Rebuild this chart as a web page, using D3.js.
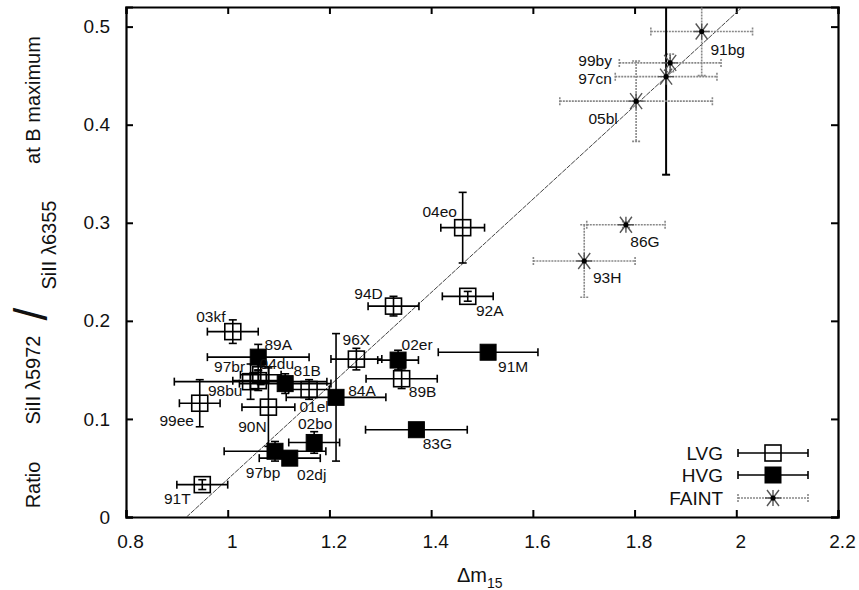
<!DOCTYPE html>
<html><head><meta charset="utf-8">
<script src="https://cdn.jsdelivr.net/npm/d3@7"></script>
<style>body{margin:0;background:#fff} text{font-family:"Liberation Sans",Arial,sans-serif;fill:#111}</style>
</head><body><svg id="c" width="859" height="590"></svg>
<script>
// ---- data ----
const lvgNames = ["91T","99ee","03kf","97br","98bu","04du","01el","90N","96X","89B","94D","04eo","92A"];
const lvgX     = [0.95, 0.945,1.01, 1.045,1.06, 1.065,1.16, 1.08, 1.253,1.342,1.326,1.462,1.472];
const lvgY     = [0.033,0.116,0.189,0.138,0.139,0.145,0.13, 0.112,0.161,0.141,0.215,0.295,0.225];
const lvgXerr  = [0.05, 0.04, 0.05, 0.15, 0.05, 0.04, 0.04, 0.052,0.05, 0.07, 0.05, 0.043,0.05];
const lvgYerr  = [0.005,0.024,0.012,0.018,0.01, 0.01, 0.01, 0.04, 0.011,0.01, 0.01, 0.036,0.005];

const hvgNames = ["89A","81B","84A","02er","91M","83G","02bo","97bp","02dj"];
const hvgX     = [1.06, 1.113,1.213,1.335,1.512,1.371,1.17, 1.093,1.122];
const hvgY     = [0.163,0.136,0.122,0.16, 0.168,0.089,0.076,0.067,0.06];
const hvgXerr  = [0.1,  0.09, 0.098,0.04, 0.098,0.1,  0.05, 0.1,  0.06];
const hvgYerr  = [0.013,0.01, 0.065,0.01, 0.006,0.006,0.011,0.01, 0.006];

const faintNames = ["91bg","99by","97cn","05bl","86G","93H"];
const faintX     = [1.932,1.87, 1.862,1.803,1.783,1.701];
const faintY     = [0.495,0.463,0.449,0.424,0.298,0.261];
const faintXerr  = [0.1,  0.1,  0.1,  0.15, 0.077,0.1];
const faintYerr  = [0.045,0.009,0.1,  0.041,0.003,0.037];

const fitX = [0.919, 2.01];
const fitY = [0, 0.519];

const xTicks = [0.8,1,1.2,1.4,1.6,1.8,2,2.2];
const yTicks = [0,0.1,0.2,0.3,0.4,0.5];
const legendLabels = ["LVG","HVG","FAINT"];

// ---- layout (pixel offsets for point labels) ----
const labelOffset = {
 "91T":[-25,14],"99ee":[-23,17],"03kf":[-22,-15],"97br":[-21,-15],"98bu":[-33,10],"04du":[16,-11],
 "01el":[5,17],"90N":[-16,19],"96X":[0,-20],"89B":[21,13],"94D":[-25,-13],"04eo":[-23,-16],"92A":[22,14],
 "89A":[20,-13],"81B":[22,-13],"84A":[26,-7],"02er":[19,-16],"91M":[25,14],"83G":[21,14],
 "02bo":[1,-19],"97bp":[-12,21],"02dj":[22,16],
 "91bg":[26,18],"99by":[-75,-2],"97cn":[-71,2],"05bl":[-33,17],"86G":[19,17],"93H":[23,17]
};

const svg = d3.select("#c");
const L=126,R=838,T=7,B=517;
const x = d3.scaleLinear().domain([0.8,2.2]).range([L,R]);
const y = d3.scaleLinear().domain([0,0.52]).range([B,T]);

svg.append("defs").append("clipPath").attr("id","clip")
  .append("rect").attr("x",L).attr("y",T).attr("width",R-L).attr("height",B-T);

function mk(names,xs,ys,xe,ye,grp){return names.map((n,i)=>({n,x:xs[i],y:ys[i],xe:xe[i],ye:ye[i],g:grp}));}
const pts = [...mk(lvgNames,lvgX,lvgY,lvgXerr,lvgYerr,"LVG"),
             ...mk(hvgNames,hvgX,hvgY,hvgXerr,hvgYerr,"HVG"),
             ...mk(faintNames,faintX,faintY,faintXerr,faintYerr,"FAINT")];

// axes
const fmt = d=>String(d);
const gx = svg.append("g").attr("transform",`translate(0,${B})`)
  .call(d3.axisBottom(x).tickValues(xTicks).tickSize(-7).tickPadding(18).tickFormat(fmt));
const gy = svg.append("g").attr("transform",`translate(${L},0)`)
  .call(d3.axisLeft(y).tickValues(yTicks).tickSize(-7).tickPadding(16).tickFormat(fmt));
const gt = svg.append("g").attr("transform",`translate(0,${T})`)
  .call(d3.axisTop(x).tickValues(xTicks).tickSize(-7).tickFormat(""));
const gr = svg.append("g").attr("transform",`translate(${R},0)`)
  .call(d3.axisRight(y).tickValues(yTicks).tickSize(-7).tickFormat(""));
[gx,gy,gt,gr].forEach(g=>{
  g.select(".domain").attr("stroke","#000").attr("stroke-width",2.2);
  g.selectAll(".tick line").attr("stroke","#000").attr("stroke-width",2);
  g.selectAll(".tick text").style("font-size","19px").attr("fill","#111");
});
gx.selectAll(".tick text").attr("dx",4);

// fit line
const plot = svg.append("g").attr("clip-path","url(#clip)");
plot.append("line").attr("x1",x(fitX[0])).attr("y1",y(fitY[0])).attr("x2",x(fitX[1])).attr("y2",y(fitY[1]))
  .attr("stroke","#444").attr("stroke-width",1).attr("stroke-dasharray","5,1");

function errStyle(sel,g){
  if(g==="FAINT") sel.attr("stroke","#888").attr("stroke-width",1.6).attr("stroke-dasharray","2,1");
  else sel.attr("stroke","#000").attr("stroke-width",1.6);
}
function drawErr(gg,cx,cy,x0,x1,y0,y1,g,blackY){
  const cap=4;
  const h = gg.append("g"); errStyle(h,g);
  h.append("line").attr("x1",x0).attr("x2",x1).attr("y1",cy).attr("y2",cy);
  h.append("line").attr("x1",x0).attr("x2",x0).attr("y1",cy-cap).attr("y2",cy+cap).attr("stroke-dasharray",null);
  h.append("line").attr("x1",x1).attr("x2",x1).attr("y1",cy-cap).attr("y2",cy+cap).attr("stroke-dasharray",null);
  const v = gg.append("g"); errStyle(v,g);
  if(blackY) v.attr("stroke","#000").attr("stroke-dasharray",null).attr("stroke-width",2);
  if(y0!==null){
    v.append("line").attr("x1",cx).attr("x2",cx).attr("y1",y0).attr("y2",y1);
    v.append("line").attr("x1",cx-cap).attr("x2",cx+cap).attr("y1",y0).attr("y2",y0).attr("stroke-dasharray",null);
    v.append("line").attr("x1",cx-cap).attr("x2",cx+cap).attr("y1",y1).attr("y2",y1).attr("stroke-dasharray",null);
  }
}
function drawMarker(gg,cx,cy,g){
  if(g==="LVG") gg.append("rect").attr("x",cx-8).attr("y",cy-8).attr("width",16).attr("height",16)
    .attr("fill","none").attr("stroke","#000").attr("stroke-width",1.6);
  else if(g==="HVG") gg.append("rect").attr("x",cx-8).attr("y",cy-8).attr("width",16).attr("height",16)
    .attr("fill","#000").attr("stroke","#000").attr("stroke-width",1);
  else {
    const s=8, d=6;
    gg.append("path").attr("d",`M${cx-d},${cy-s}L${cx+d},${cy+s}M${cx+d},${cy-s}L${cx-d},${cy+s}M${cx},${cy-s}L${cx},${cy+s}M${cx-s},${cy}L${cx+s},${cy}`)
      .attr("stroke","#555").attr("stroke-width",1.4).attr("fill","none");
    gg.append("circle").attr("cx",cx).attr("cy",cy).attr("r",2.6).attr("fill","#000");
  }
}

const eg = plot.append("g"), mg = plot.append("g");
pts.forEach(p=>{
  drawErr(eg,x(p.x),y(p.y),x(p.x-p.xe),x(p.x+p.xe),y(p.y+p.ye),y(p.y-p.ye),p.g,p.n==="97cn");
});
pts.forEach(p=>drawMarker(mg,x(p.x),y(p.y),p.g));

// point labels
const lg = svg.append("g");
pts.forEach(p=>{
  const o = labelOffset[p.n]||[0,-18];
  lg.append("text").attr("x",x(p.x)+o[0]).attr("y",y(p.y)+o[1]).attr("dy","0.35em")
    .attr("text-anchor","middle").style("font-size","15.5px").text(p.n);
});

// legend
const legY=[453,475,498];
legendLabels.forEach((lab,i)=>{
  const gg = svg.append("g");
  gg.append("text").attr("x",723).attr("y",legY[i]).attr("dy","0.35em").attr("text-anchor","end")
    .style("font-size","19px").text(lab);
  drawErr(gg,773,legY[i],738,808,null,null,lab,false);
  drawMarker(gg,773,legY[i],lab);
});

// axis titles
const xt = svg.append("text").attr("x",457).attr("y",582).style("font-size","20px");
xt.append("tspan").text("Δm");
xt.append("tspan").attr("dy",6).style("font-size","14px").text("15");

const ytParts = [
 {t:"Ratio", x:33, y:485, fs:20},
 {t:"SiII λ5972", x:33, y:380, fs:20},
 {t:"/", x:31, y:314, fs:46},
 {t:"SiII λ6355", x:49, y:245, fs:20},
 {t:"at B maximum", x:33, y:100, fs:20}
];
ytParts.forEach(d=>{
  svg.append("text").attr("transform",`translate(${d.x},${d.y}) rotate(-90)`).attr("dy","0.35em")
    .attr("text-anchor","middle").style("font-size",d.fs+"px").text(d.t);
});
</script></body></html>
